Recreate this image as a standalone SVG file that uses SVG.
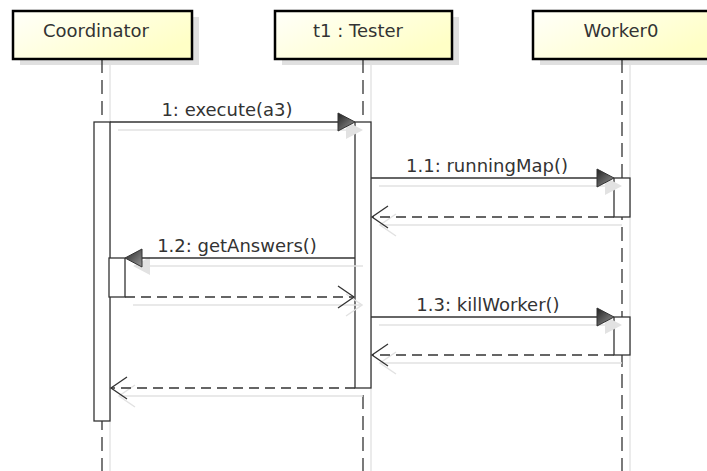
<svg xmlns="http://www.w3.org/2000/svg" width="707" height="471" viewBox="0 0 707 471">
  <defs>
    <linearGradient id="headFill" x1="0" y1="0" x2="1" y2="0.6">
      <stop offset="0" stop-color="#fffffa"/>
      <stop offset="1" stop-color="#ffffc6"/>
    </linearGradient>
    <linearGradient id="arrowFill" x1="0" y1="0" x2="1" y2="1">
      <stop offset="0" stop-color="#222"/>
      <stop offset="1" stop-color="#999"/>
    </linearGradient>
    <style>
      .headShadow{fill:#e0e0e0}
      .head{fill:url(#headFill);stroke:#000;stroke-width:2.5}
      .name{font-family:"DejaVu Sans",sans-serif;font-size:18px;fill:#333;text-anchor:middle}
      .life{stroke:#333;stroke-width:1.3;stroke-dasharray:14 7;fill:none}
      .lifeShadow{stroke:#e4e4e4;stroke-width:1.5;fill:none}
      .bar{fill:#fff;stroke:#333;stroke-width:1.3}
      .msg{stroke:#333;stroke-width:1.3;fill:none}
      .ret{stroke:#333;stroke-width:1.3;stroke-dasharray:10 6;fill:none}
      .open{stroke:#333;stroke-width:1.3;fill:none}
      .tri{fill:url(#arrowFill);stroke:#333;stroke-width:1}
      .shadow{stroke:#e2e2e2;stroke-width:1.5;fill:none}
      .shadowTri{fill:#e2e2e2}
      .label{font-family:"DejaVu Sans",sans-serif;font-size:18px;fill:#333;text-anchor:middle}
    </style>
  </defs>
  <rect width="707" height="471" fill="#fff"/>

  <!-- Coordinator lifeline -->
  <g id="coordinator">
    <rect class="headShadow" x="20" y="17" width="179" height="48"/>
    <line class="lifeShadow" x1="110" y1="65" x2="110" y2="471"/>
    <line class="life" x1="102" y1="59" x2="102" y2="471"/>
    <rect class="head" x="13" y="11" width="179" height="48"/>
    <text class="name" x="96" y="37">Coordinator</text>
    <rect class="bar" x="94" y="122" width="16" height="299"/>
    <rect class="bar" x="109" y="258" width="16" height="39"/>
  </g>

  <!-- t1 : Tester lifeline -->
  <g id="tester">
    <rect class="headShadow" x="282" y="17" width="177" height="48"/>
    <line class="lifeShadow" x1="371" y1="65" x2="371" y2="471"/>
    <line class="life" x1="363" y1="59" x2="363" y2="471"/>
    <rect class="head" x="275" y="11" width="177" height="48"/>
    <text class="name" x="358" y="37">t1 : Tester</text>
    <rect class="bar" x="355" y="122" width="16" height="266"/>
  </g>

  <!-- Worker0 lifeline -->
  <g id="worker0">
    <rect class="headShadow" x="540" y="17" width="178" height="48"/>
    <line class="lifeShadow" x1="630" y1="65" x2="630" y2="471"/>
    <line class="life" x1="622" y1="59" x2="622" y2="471"/>
    <rect class="head" x="533" y="11" width="178" height="48"/>
    <text class="name" x="621" y="37">Worker0</text>
    <rect class="bar" x="614" y="178" width="16" height="39"/>
    <rect class="bar" x="614" y="317" width="16" height="38"/>
  </g>

  <!-- messages -->
  <g id="connectors">
    <!-- soft drop shadows -->
    <g transform="translate(8,8)">
      <line class="shadow" x1="110" y1="122" x2="338" y2="122"/>
      <polygon class="shadowTri" points="355,122 338,113 338,131"/>
      <line class="shadow" x1="371" y1="178" x2="597" y2="178"/>
      <polygon class="shadowTri" points="614,178 597,169 597,187"/>
      <line class="shadow" x1="372" y1="217" x2="614" y2="217"/>
      <polyline class="shadow" points="388,206 372,217 388,228"/>
      <line class="shadow" x1="142" y1="258" x2="355" y2="258"/>
      <polygon class="shadowTri" points="125,258 142,249 142,267"/>
      <line class="shadow" x1="125" y1="297" x2="354" y2="297"/>
      <polyline class="shadow" points="338,286 354,297 338,308"/>
      <line class="shadow" x1="371" y1="317" x2="597" y2="317"/>
      <polygon class="shadowTri" points="614,317 597,308 597,326"/>
      <line class="shadow" x1="372" y1="355" x2="614" y2="355"/>
      <polyline class="shadow" points="388,344 372,355 388,366"/>
      <line class="shadow" x1="111" y1="388" x2="355" y2="388"/>
      <polyline class="shadow" points="127,377 111,388 127,399"/>
    </g>

    <!-- 1: execute(a3) -->
    <g id="m1">
      <line class="msg" x1="110" y1="122" x2="338" y2="122"/>
      <polygon class="tri" points="355,122 338,113 338,131"/>
      <text class="label" x="227" y="116">1: execute(a3)</text>
    </g>
    <!-- 1.1: runningMap() -->
    <g id="m1_1">
      <line class="msg" x1="371" y1="178" x2="597" y2="178"/>
      <polygon class="tri" points="614,178 597,169 597,187"/>
      <text class="label" x="487" y="172">1.1: runningMap()</text>
      <line class="ret" x1="614" y1="217" x2="372" y2="217"/>
      <polyline class="open" points="388,206 372,217 388,228"/>
    </g>
    <!-- 1.2: getAnswers() -->
    <g id="m1_2">
      <line class="msg" x1="355" y1="258" x2="142" y2="258"/>
      <polygon class="tri" points="125,258 142,249 142,267"/>
      <text class="label" x="237" y="252">1.2: getAnswers()</text>
      <line class="ret" x1="125" y1="297" x2="354" y2="297"/>
      <polyline class="open" points="338,286 354,297 338,308"/>
    </g>
    <!-- 1.3: killWorker() -->
    <g id="m1_3">
      <line class="msg" x1="371" y1="317" x2="597" y2="317"/>
      <polygon class="tri" points="614,317 597,308 597,326"/>
      <text class="label" x="488" y="311">1.3: killWorker()</text>
      <line class="ret" x1="614" y1="355" x2="372" y2="355"/>
      <polyline class="open" points="388,344 372,355 388,366"/>
    </g>
    <!-- return of 1 -->
    <g id="r1">
      <line class="ret" x1="355" y1="388" x2="111" y2="388"/>
      <polyline class="open" points="127,377 111,388 127,399"/>
    </g>
  </g>
</svg>
